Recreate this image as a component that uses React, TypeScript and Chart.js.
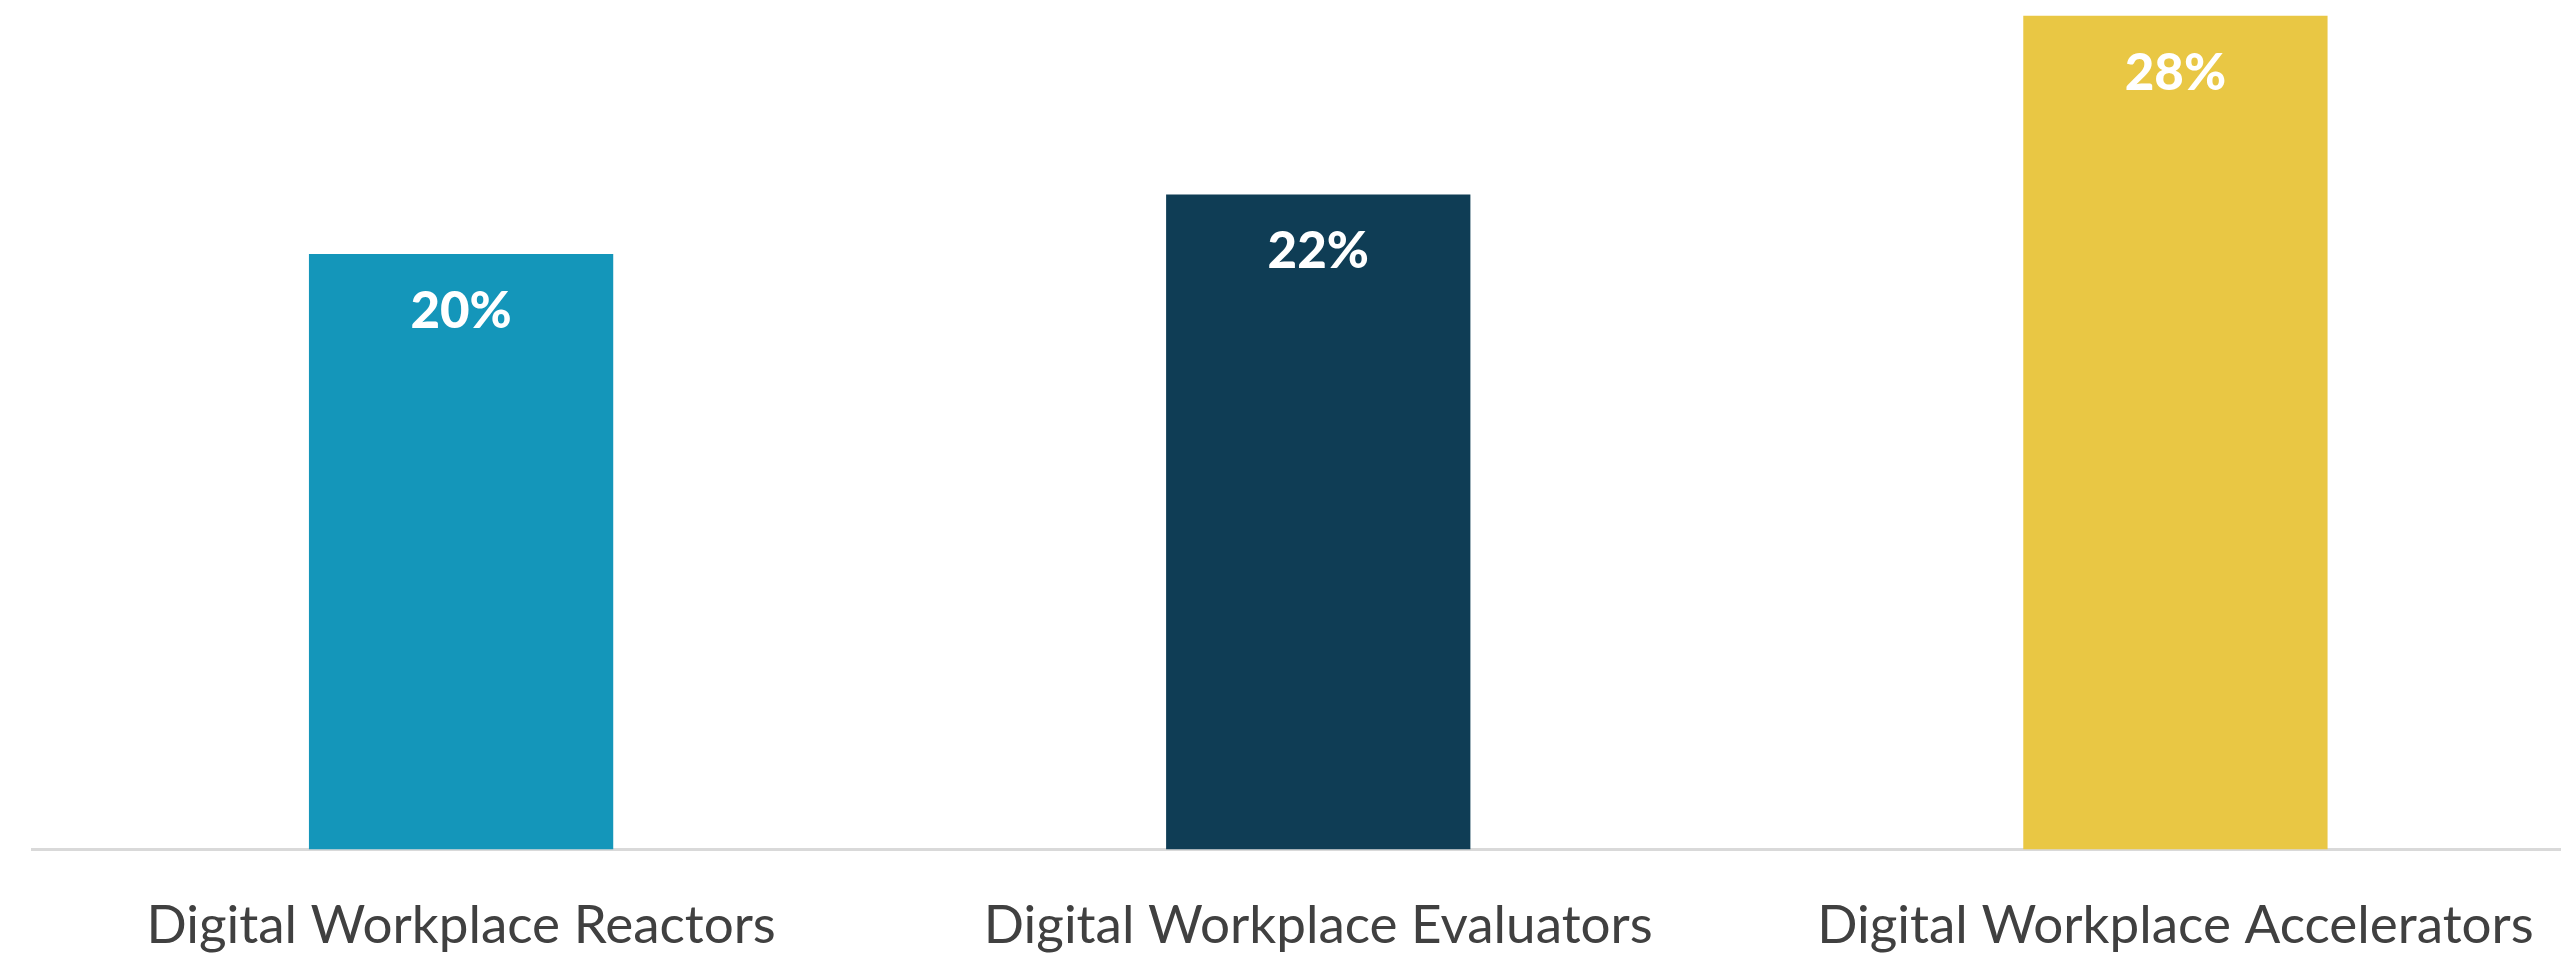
import React, { useEffect, useRef } from "react";
import { Chart, registerables } from "chart.js";

Chart.register(...registerables);

const categories: string[] = [
  "Digital Workplace Reactors",
  "Digital Workplace Evaluators",
  "Digital Workplace Accelerators",
];
const values: number[] = [20, 22, 28];
const valueLabels: string[] = ["20%", "22%", "28%"];
const barColors: string[] = ["#1496BA", "#0F3D55", "#E9C744"];

const CANVAS_W = 2604;
const CANVAS_H = 1003;

const valueLabelPlugin = {
  id: "valueLabels",
  afterDatasetsDraw(chart: any) {
    const ctx = chart.ctx;
    const meta = chart.getDatasetMeta(0);
    ctx.save();
    ctx.fillStyle = "#FFFFFF";
    ctx.font = "900 51px Lato";
    ctx.textAlign = "center";
    ctx.textBaseline = "alphabetic";
    meta.data.forEach((bar: any, i: number) => {
      ctx.fillText(valueLabels[i], bar.x, bar.y + 74);
    });
    ctx.restore();
  },
};

export default function App() {
  const ref = useRef<HTMLCanvasElement | null>(null);

  useEffect(() => {
    document.body.style.margin = "0";
    const canvas = ref.current!;
    const chart = new Chart(canvas, {
      type: "bar",
      data: {
        labels: categories,
        datasets: [
          {
            data: values,
            backgroundColor: barColors,
            borderWidth: 0,
            categoryPercentage: 1,
            barPercentage: 0.355,
          },
        ],
      },
      options: {
        responsive: false,
        animation: false,
        devicePixelRatio: 1,
        layout: { padding: { left: 32.5, right: 0, top: 0, bottom: 0 } },
        plugins: {
          legend: { display: false },
          tooltip: { enabled: false },
        },
        scales: {
          x: {
            grid: { display: false, drawTicks: false },
            border: { display: true, color: "#D9D9D9", width: 3 },
            ticks: {
              padding: 45,
              color: "#404040",
              font: { family: "Lato", size: 53 },
              maxRotation: 0,
              autoSkip: false,
            },
          },
          y: {
            display: false,
            min: 0,
            max: 28.53,
          },
        },
      },
      plugins: [valueLabelPlugin],
    });
    return () => chart.destroy();
  }, []);

  return (
    <div
      style={{
        position: "fixed",
        top: 0,
        left: 0,
        width: "100vw",
        height: "100vh",
        overflow: "hidden",
        background: "#FFFFFF",
      }}
    >
      <canvas
        ref={ref}
        width={CANVAS_W}
        height={CANVAS_H}
        style={{ display: "block", width: CANVAS_W, height: CANVAS_H }}
      />
    </div>
  );
}
